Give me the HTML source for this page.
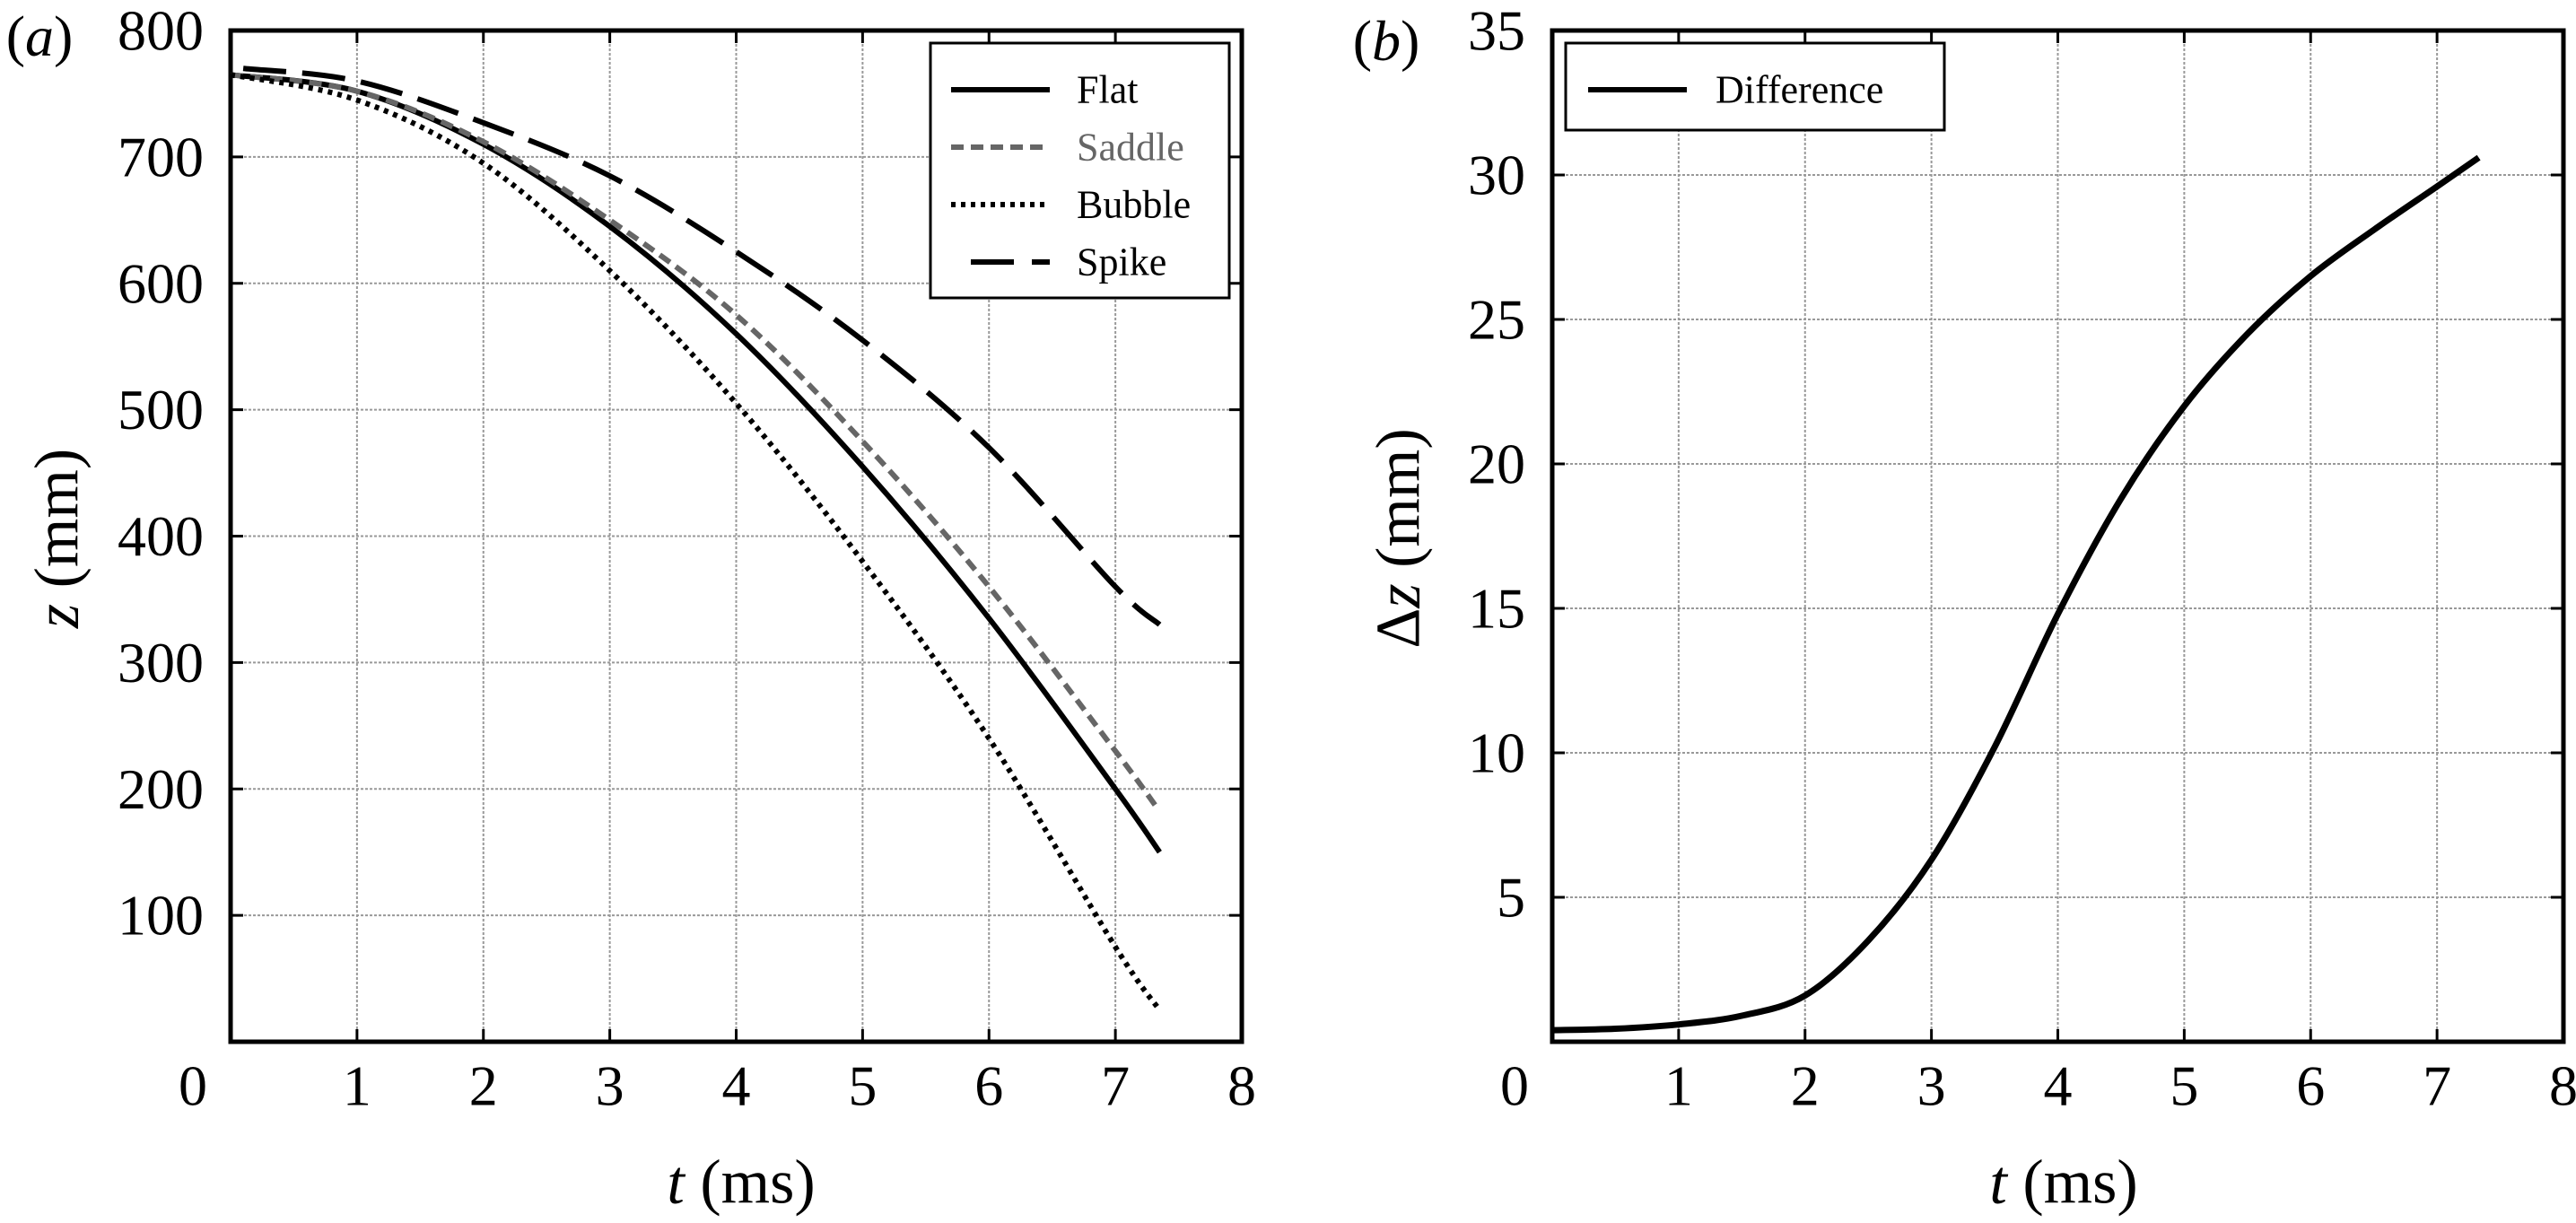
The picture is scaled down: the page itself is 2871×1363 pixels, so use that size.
<!DOCTYPE html>
<html><head><meta charset="utf-8"><style>
html,body{margin:0;padding:0;background:#fff;}
svg, svg text{font-family:"Liberation Serif","Times New Roman","DejaVu Serif",serif;}
</style></head><body>
<svg id="fig" width="2871" height="1358" viewBox="0 0 2871 1358" xmlns="http://www.w3.org/2000/svg" font-family="Liberation Serif, DejaVu Serif, serif"></svg>
<script>
const tTicks=[0,1,2,3,4,5,6,7,8];
const zTicks=[100,200,300,400,500,600,700,800];
const dzTicks=[5,10,15,20,25,30,35];
const flatT=[0,1,2,3,4,5,6,7,7.35];
const flatZ=[765,752,710,645,560,455,335,200,150];
const saddleT=[0,1,2,3,4,5,6,7,7.33];
const saddleZ=[765,752,712,650,575,475,360,230,185];
const bubbleT=[0,1,2,3,4,5,6,7,7.35];
const bubbleZ=[765,745,695,610,505,380,240,75,25];
const spikeT=[0.1,1,2,3,4,5,6,7,7.35];
const spikeZ=[770,760,727,685,625,555,470,360,330];
const diffT=[0,0.5,1,1.5,2,2.5,3,3.5,4,4.5,5,5.5,6,6.5,7,7.33];
const diffZ=[0.4,0.45,0.6,0.9,1.6,3.5,6.3,10.2,14.8,18.8,22,24.5,26.5,28.1,29.6,30.6];

const NS="http://www.w3.org/2000/svg";
const svg=document.getElementById('fig');
function mk(tag,attrs,parent){const e=document.createElementNS(NS,tag);for(const k in attrs)e.setAttribute(k,attrs[k]);(parent||svg).appendChild(e);return e;}
function txt(s,x,y,size,anchor,parent,extra){const e=mk('text',Object.assign({x:x,y:y,'font-size':size,'text-anchor':anchor||'middle','dominant-baseline':'central',fill:'#000','font-family':'Liberation Serif, DejaVu Serif, serif'},extra||{}),parent);e.textContent=s;return e;}
function smooth(pts){let d='M'+pts[0][0]+','+pts[0][1];for(let i=0;i<pts.length-1;i++){const p0=pts[i-1]||pts[i],p1=pts[i],p2=pts[i+1],p3=pts[i+2]||p2;const c1x=p1[0]+(p2[0]-p0[0])/6,c1y=p1[1]+(p2[1]-p0[1])/6,c2x=p2[0]-(p3[0]-p1[0])/6,c2y=p2[1]-(p3[1]-p1[1])/6;d+=' C'+c1x+','+c1y+' '+c2x+','+c2y+' '+p2[0]+','+p2[1];}return d;}

function panel(L,name,ymax,yTicks){
  const T=34,B=1161,R=L+1127;
  const g=mk('g',{});
  
  
  const sx=v=>L+(v/8)*(R-L), sy=v=>B-(v/ymax)*(B-T);
  tTicks.forEach(v=>{if(v>0&&v<8){const l=mk('line',{x1:sx(v),x2:sx(v),y1:T,y2:B,stroke:'#999','stroke-width':2,'stroke-dasharray':'3,2'},g);
    mk('line',{x1:sx(v),x2:sx(v),y1:B-14,y2:B,stroke:'#000','stroke-width':3},g);mk('line',{x1:sx(v),x2:sx(v),y1:T,y2:T+14,stroke:'#000','stroke-width':3},g);}
    const lb=txt(String(v),v===0?sx(v)-42:sx(v),1210,64,'middle',g);});
  yTicks.forEach(v=>{if(v<ymax){const l=mk('line',{x1:L,x2:R,y1:sy(v),y2:sy(v),stroke:'#999','stroke-width':2,'stroke-dasharray':'3,2'},g);
    mk('line',{x1:L,x2:L+14,y1:sy(v),y2:sy(v),stroke:'#000','stroke-width':3},g);mk('line',{x1:R-14,x2:R,y1:sy(v),y2:sy(v),stroke:'#000','stroke-width':3},g);}
    const lb=txt(String(v),L-30,sy(v),64,'end',g);});
  const f=mk('rect',{x:L,y:T,width:R-L,height:B-T,fill:'none',stroke:'#000','stroke-width':5},g);
  
  return {g,sx,sy,L,R,T,B};
}
function series(p,ts,vs,style,name){
  const pts=ts.map((t,i)=>[p.sx(t),p.sy(vs[i])]);
  const e=mk('path',Object.assign({d:smooth(pts),fill:'none'},style),p.g);
  
  
}
const stFlat={stroke:'#000','stroke-width':6};
const stSaddle={stroke:'#666','stroke-width':6,'stroke-dasharray':'14,8'};
const stBubble={stroke:'#000','stroke-width':6,'stroke-dasharray':'5,6'};
const stSpike={stroke:'#000','stroke-width':6,'stroke-dasharray':'48,18'};

const A=panel(257,'panel-a',800,zTicks);
series(A,flatT,flatZ,stFlat,'flat-line');
series(A,saddleT,saddleZ,stSaddle,'saddle-line');
series(A,bubbleT,bubbleZ,stBubble,'bubble-line');
series(A,spikeT,spikeZ,stSpike,'spike-line');
let t=txt('',44,40,64,'middle');
t.innerHTML='(<tspan font-style="italic">a</tspan>)';
t=txt('',826,1318,70,'middle');t.innerHTML='<tspan font-style="italic">t</tspan> (ms)';
t=txt('',64,600,70,'middle',svg,{transform:'rotate(-90 64 600)'});t.innerHTML='<tspan font-style="italic">z</tspan> (mm)';

const lg=mk('g',{});
mk('rect',{x:1037,y:48,width:333,height:284,fill:'#fff',stroke:'#000','stroke-width':3},lg);
[['Flat',stFlat,'#000',100],['Saddle',stSaddle,'#666',164],['Bubble',stBubble,'#000',228],['Spike',stSpike,'#000',292]].forEach(r=>{
  const ln=mk('line',Object.assign({x1:1060,x2:1170,y1:r[3],y2:r[3]},r[1]),lg);
  if(r[0]==='Spike'){ln.setAttribute('x1',1070);ln.setAttribute('stroke-dasharray','0,12,48,20,60');}
  const e=txt(r[0],1200,r[3],44,'start',lg,{fill:r[2]});
});

const Bp=panel(1730,'panel-b',35,dzTicks);
series(Bp,diffT,diffZ,{stroke:'#000','stroke-width':7},'difference-line');
t=txt('',1545,45,64,'middle');t.innerHTML='(<tspan font-style="italic">b</tspan>)';
t=txt('',2300,1318,70,'middle');t.innerHTML='<tspan font-style="italic">t</tspan> (ms)';
t=txt('',1559,600,70,'middle',svg,{transform:'rotate(-90 1559 600)'});t.innerHTML='Δ<tspan font-style="italic">z</tspan> (mm)';
const lg2=mk('g',{});
mk('rect',{x:1745,y:48,width:422,height:97,fill:'#fff',stroke:'#000','stroke-width':3},lg2);
const l2=mk('line',{x1:1770,x2:1880,y1:100,y2:100,stroke:'#000','stroke-width':6},lg2);
t=txt('Difference',1912,100,44,'start',lg2);
</script>
</body></html>
